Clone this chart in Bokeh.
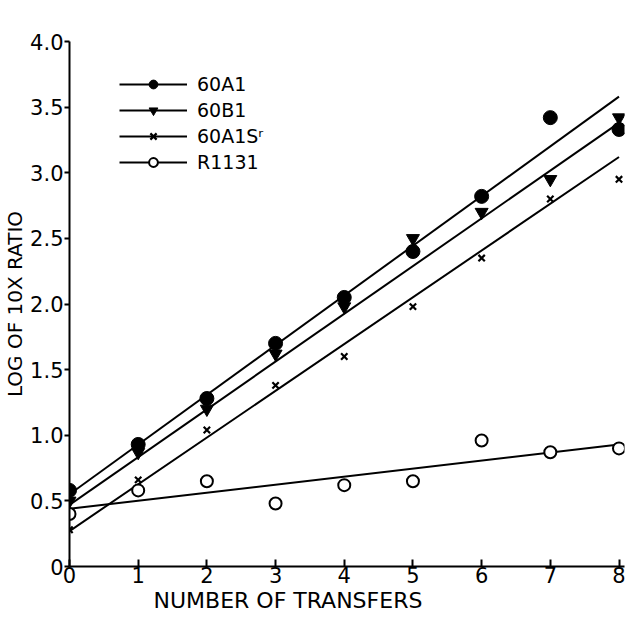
import numpy as np
from bokeh.plotting import figure
from bokeh.models import Legend, LegendItem, FixedTicker, Title
from bokeh.embed import file_html
from bokeh.resources import INLINE

# ---- data ----
transfers = [0, 1, 2, 3, 4, 5, 6, 7, 8]
a1 = [0.58, 0.93, 1.28, 1.70, 2.05, 2.40, 2.82, 3.42, 3.33]
b1 = [0.50, 0.87, 1.20, 1.62, 1.98, 2.50, 2.70, 2.95, 3.42]
a1s = [0.28, 0.66, 1.04, 1.38, 1.60, 1.98, 2.35, 2.80, 2.95]
r1131 = [0.40, 0.58, 0.65, 0.48, 0.62, 0.65, 0.96, 0.87, 0.90]

fit_x = [0, 8]
fit_a1 = [0.55, 3.58]
fit_b1 = [0.47, 3.38]
fit_a1s = [0.27, 3.12]
fit_r1131 = [0.44, 0.93]

labels = ["60A1", "60B1", "60A1S\u02b3", "R1131"]
y_ticks = [0, 0.5, 1.0, 1.5, 2.0, 2.5, 3.0, 3.5, 4.0]
y_tick_labels = ["0", "0.5", "1.0", "1.5", "2.0", "2.5", "3.0", "3.5", "4.0"]
x_ticks = [0, 1, 2, 3, 4, 5, 6, 7, 8]
x_title = "NUMBER OF TRANSFERS"
y_title = "LOG OF 10X RATIO"

FONT = "DejaVu Sans"
INK = "black"

p = figure(width=632, height=612, x_range=(0, 8.08), y_range=(0, 4),
           output_backend="svg", toolbar_location=None,
           min_border_left=64, min_border_right=8, min_border_top=41, min_border_bottom=0)
p.outline_line_color = None
p.grid.visible = False
p.background_fill_color = "white"

for ax in (p.xaxis[0], p.yaxis[0]):
    ax.axis_line_width = 2
    ax.axis_line_color = INK
    ax.major_tick_line_width = 2
    ax.major_tick_line_color = INK
    ax.minor_tick_line_color = None
    ax.major_label_text_font = FONT
    ax.major_label_text_font_size = "21px"
    ax.major_label_text_color = INK
    ax.axis_label_text_font = FONT
    ax.axis_label_text_font_size = "20px"
    ax.axis_label_text_font_style = "normal"
    ax.axis_label_text_color = INK
    ax.major_label_standoff = 1
    ax.axis_label_standoff = 0

p.xaxis.ticker = FixedTicker(ticks=x_ticks)
p.xaxis.major_tick_in = 7
p.xaxis.major_tick_out = 0
p.xaxis.major_label_standoff = 0

p.yaxis.ticker = FixedTicker(ticks=y_ticks)
p.yaxis.major_label_overrides = {t: l for t, l in zip(y_ticks, y_tick_labels)}
p.yaxis.major_tick_in = 0
p.yaxis.major_tick_out = 5
p.yaxis.axis_label = y_title

# x-axis title below the axis, starting a little right of the origin as in the original
p.add_layout(Title(text=x_title, align="left", offset=84, standoff=0,
                   text_font=FONT, text_font_size="22px", text_font_style="normal",
                   text_color=INK), "below")

lw = 2
l1 = p.line(fit_x, fit_a1, line_color=INK, line_width=lw)
l2 = p.line(fit_x, fit_b1, line_color=INK, line_width=lw)
l3 = p.line(fit_x, fit_a1s, line_color=INK, line_width=lw)
l4 = p.line(fit_x, fit_r1131, line_color=INK, line_width=lw)

s1 = p.scatter(transfers, a1, marker="circle", size=14, fill_color=INK, line_color=INK)
s2 = p.scatter(transfers, b1, marker="inverted_triangle", size=13, fill_color=INK, line_color=INK)
s3 = p.scatter(transfers, a1s, marker="x", size=9, line_color=INK, line_width=2.2)
s4 = p.scatter(transfers, r1131, marker="circle", size=12, fill_color="white", line_color=INK, line_width=2)

legend = Legend(items=[
    LegendItem(label=labels[0], renderers=[l1, s1]),
    LegendItem(label=labels[1], renderers=[l2, s2]),
    LegendItem(label=labels[2], renderers=[l3, s3]),
    LegendItem(label=labels[3], renderers=[l4, s4]),
], location=(50, 393))
legend.border_line_color = None
legend.background_fill_alpha = 0
legend.label_text_font = FONT
legend.label_text_font_size = "19px"
legend.label_text_color = INK
legend.glyph_width = 68
legend.glyph_height = 22
legend.label_height = 22
legend.spacing = 4
legend.padding = 5
legend.margin = 0
legend.label_standoff = 10
p.add_layout(legend)

open("out.html", "w").write(file_html(p, INLINE))
